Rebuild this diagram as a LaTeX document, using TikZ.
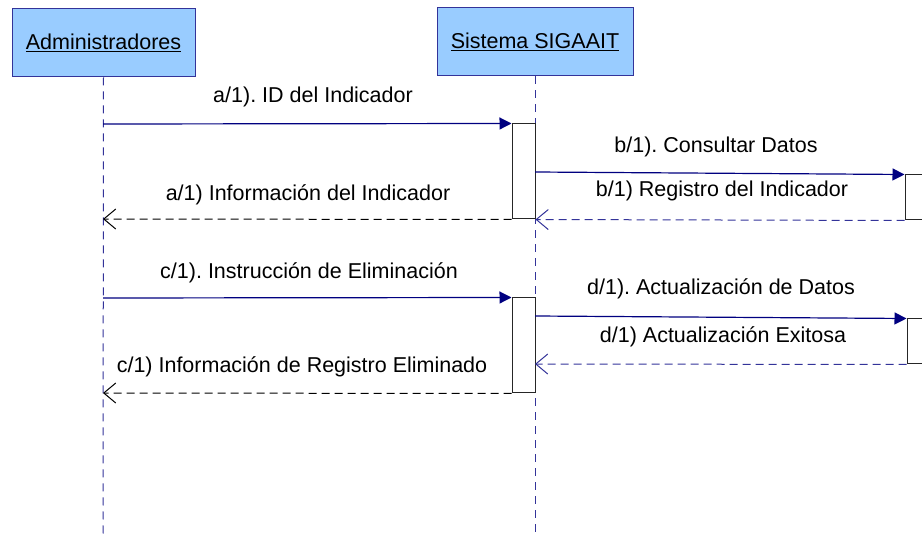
\documentclass[tikz,border=0pt]{standalone}
\usepackage{fontspec}
\setmainfont{Liberation Sans}
\usetikzlibrary{arrows.meta}
\definecolor{boxfill}{RGB}{153,204,255}
\definecolor{navy}{RGB}{0,0,128}
\definecolor{lifeblue}{RGB}{51,51,153}
\frenchspacing
\begin{document}
\begin{tikzpicture}[x=1pt,y=-1pt,
  font=\fontsize{21.5}{26}\selectfont,
  actor/.style={draw=lifeblue, fill=boxfill, line width=1pt, inner sep=0pt,
    text height=15pt, text depth=1pt},
  actbox/.style={draw=black!85, fill=white, line width=1pt, inner sep=0pt, minimum width=23pt},
  lifeline/.style={draw=lifeblue, line width=1pt, dash pattern=on 8pt off 6pt},
  msg/.style={draw=navy, line width=1.2pt, -{Triangle[length=12pt,width=12pt]}},
  ret/.style={line width=1pt, dash pattern=on 8pt off 5pt,
    -{Straight Barb[length=12pt,width=20pt,line width=1pt]}},
  lbl/.style={anchor=base, inner sep=0pt}]
\useasboundingbox (0,0) rectangle (922,537);
\clip (0,0) rectangle (922,537);

% actors
\node[actor, minimum width=183pt, minimum height=68pt] (adm) at (103.5,43) {\underline{Administradores}};
\node[actor, minimum width=196pt, minimum height=68pt] (sis) at (535,42) {\underline{Sistema SIGAAIT}};

% lifelines
\coordinate (admend) at (103,537);
\coordinate (sisend) at (535,537);
\draw[lifeline] (adm.south) -- (admend);
\draw[lifeline] (sis.south) -- (sisend);

% activation boxes
\node[actbox, minimum height=95pt] (act1) at (523.5,171.5) {};
\node[actbox, minimum height=95pt] (act2) at (523.5,345.5) {};
\node[actbox, minimum height=45pt] (r1) at (916.5,197.5) {};
\node[actbox, minimum height=45pt] (r2) at (918.5,341.5) {};

% message points
\coordinate (a1s) at (103,124);
\coordinate (a1e) at (103,219);
\coordinate (b1s) at (535,172);
\coordinate (c1s) at (103,298);
\coordinate (c1e) at (103,393);
\coordinate (d1s) at (535,316);
\coordinate (d1e) at (535,364);

% messages
\draw[msg] (a1s) -- (act1.north west);
\draw[msg] (b1s) -- (r1.north west);
\draw[ret, draw=lifeblue] (r1.south west) -- (act1.south east);
\draw[ret, draw=black] (act1.south west) -- (a1e);
\draw[msg] (c1s) -- (act2.north west);
\draw[msg] (d1s) -- (r2.north west);
\draw[ret, draw=lifeblue] (r2.south west) -- (d1e);
\draw[ret, draw=black] (act2.south west) -- (c1e);

% labels
\node[lbl] (la1) at (313,103) {a/1). ID del Indicador};
\node[lbl] (la1r) at (308,201) {a/1) Información del Indicador};
\node[lbl] (lc1) at (309,279) {c/1). Instrucción de Eliminación};
\node[lbl] (lc1r) at (302,373) {c/1) Información de Registro Eliminado};
\node[lbl] (lb1) at (716,153) {b/1). Consultar Datos};
\node[lbl] (lb1r) at (722,197) {b/1) Registro del Indicador};
\node[lbl] (ld1) at (721,295) {d/1). Actualización de Datos};
\node[lbl] (ld1r) at (723,343) {d/1) Actualización Exitosa};
\end{tikzpicture}
\end{document}
